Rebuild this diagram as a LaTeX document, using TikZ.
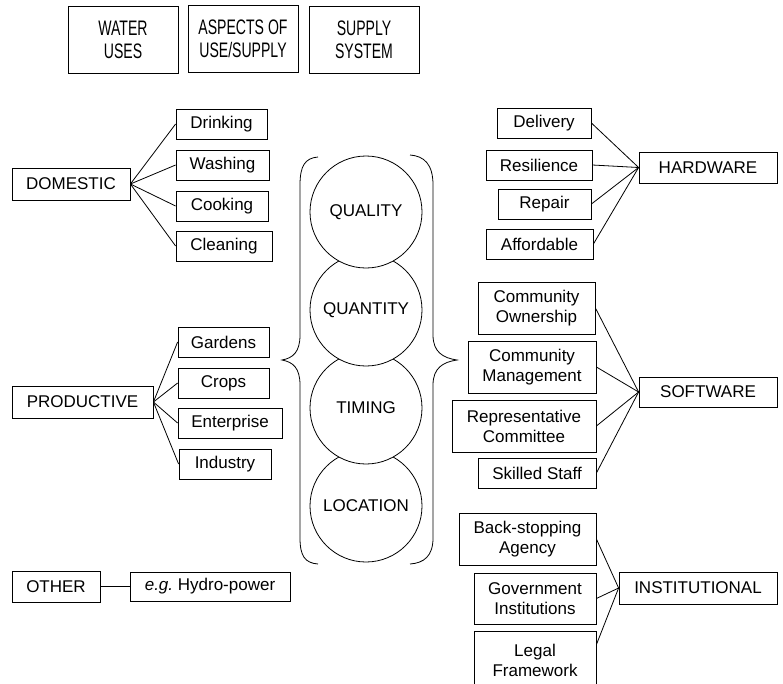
\documentclass[tikz,border=0pt]{standalone}
\usepackage{fontspec}
\setmainfont{Liberation Sans}
\newfontfamily\narrowfont[FakeStretch=0.67]{Liberation Sans}
\tikzset{
  box/.style={draw, line width=0.8pt, inner sep=0pt, align=center, font=\fontsize{17}{20}\selectfont},
  headbox/.style={draw, line width=0.8pt, inner sep=0pt, align=center, minimum width=110pt, minimum height=67pt, font=\narrowfont\fontsize{21}{23}\selectfont},
  aspect/.style={circle, draw, line width=0.8pt, fill=white, minimum size=112pt, inner sep=0pt, font=\fontsize{17}{20}\selectfont},
  link/.style={line width=0.8pt},
  bracepath/.style={line width=0.8pt}
}
\begin{document}
\begin{tikzpicture}[x=1pt,y=-1pt]
\clip (0,0) rectangle (783,683);
\fill[white] (0,0) rectangle (783,683);
% headers
\node[headbox] (water) at (123,39.5) {WATER\\USES};
\node[headbox] (aspects) at (243,38.5) {ASPECTS OF\\USE/SUPPLY};
\node[headbox] (supply) at (364,39.5) {SUPPLY\\SYSTEM};
% domestic
\node[box, minimum width=118pt, minimum height=32pt] (domestic) at (71,184) {DOMESTIC};
\node[box, minimum width=91pt, minimum height=30pt] (drinking) at (221.5,124) {Drinking};
\node[box, minimum width=93pt, minimum height=30pt] (washing) at (222.5,165) {Washing};
\node[box, minimum width=92pt, minimum height=30pt] (cooking) at (222,206) {Cooking};
\node[box, minimum width=96pt, minimum height=30pt] (cleaning) at (224,246) {Cleaning};
\foreach \n in {drinking,washing,cooking,cleaning} \draw[link] (domestic.east) -- (\n.west);
% productive
\node[box, minimum width=141pt, minimum height=32pt] (productive) at (82.5,402) {PRODUCTIVE};
\node[box, minimum width=91pt, minimum height=30pt] (gardens) at (223.5,342) {Gardens};
\node[box, minimum width=91pt, minimum height=30pt] (crops) at (223.5,383) {Crops};
\node[box, minimum width=104pt, minimum height=30pt] (enterprise) at (230,423) {Enterprise};
\node[box, minimum width=92pt, minimum height=30pt] (industry) at (225,464) {Industry};
\foreach \n in {gardens,crops,enterprise,industry} \draw[link] (productive.east) -- (\n.west);
% other
\node[box, minimum width=88pt, minimum height=31pt] (other) at (56,586.5) {OTHER};
\node[box, minimum width=160pt, minimum height=29pt] (hydro) at (210,586.5) {\textit{e.g.}\ Hydro-power};
\draw[link] (other.east) -- (hydro.west);
% circles (drawn bottom first)
\node[aspect] (location) at (366,506) {LOCATION};
\node[aspect] (timing) at (366,408) {TIMING};
\node[aspect] (quantity) at (366,310) {QUANTITY};
\node[aspect] (quality) at (366,212) {QUALITY};
% braces
\draw[bracepath] (318,157) .. controls (305,158) and (300,166) .. (300,185) -- (300,335)
  .. controls (300,352) and (293,358) .. (282,360)
  .. controls (293,362) and (300,368) .. (300,385) -- (300,538)
  .. controls (300,556) and (305,563) .. (318,564);
\draw[bracepath] (410,155) .. controls (424,156) and (433,164) .. (433,185) -- (433,335)
  .. controls (433,352) and (443,358) .. (457,360)
  .. controls (443,362) and (433,368) .. (433,385) -- (433,538)
  .. controls (433,556) and (424,563) .. (410,564);
% hardware
\node[box, minimum width=138pt, minimum height=31pt] (hardware) at (708,167.5) {HARDWARE};
\node[box, minimum width=94pt, minimum height=30pt] (delivery) at (544,123) {Delivery};
\node[box, minimum width=106pt, minimum height=30pt] (resilience) at (539,165) {Resilience};
\node[box, minimum width=93pt, minimum height=30pt] (repair) at (544.5,204) {Repair};
\node[box, minimum width=107pt, minimum height=30pt] (affordable) at (539.5,244) {Affordable};
\foreach \n in {delivery,resilience,repair,affordable} \draw[link] (\n.east) -- (hardware.west);
% software
\node[box, minimum width=138pt, minimum height=30pt] (software) at (708,392) {SOFTWARE};
\node[box, minimum width=117pt, minimum height=52pt] (comown) at (536.5,308) {Community\\Ownership};
\node[box, minimum width=128pt, minimum height=52pt] (comman) at (532,367) {Community\\Management};
\node[box, minimum width=144pt, minimum height=52pt] (repcom) at (524,426) {Representative\\Committee};
\node[box, minimum width=118pt, minimum height=30pt] (skilled) at (537,473) {Skilled Staff};
\foreach \n in {comown,comman,repcom,skilled} \draw[link] (\n.east) -- (software.west);
% institutional
\node[box, minimum width=158pt, minimum height=32pt] (institutional) at (698,588) {INSTITUTIONAL};
\node[box, minimum width=137pt, minimum height=52pt] (backstop) at (527.5,539) {Back-stopping\\Agency};
\node[box, minimum width=122pt, minimum height=51pt] (govt) at (535,598.5) {Government\\Institutions};
\node[box, minimum width=122pt, minimum height=58pt] (legal) at (535,660) {Legal\\Framework};
\draw[link] (backstop.east) -- (institutional.west);
\draw[link] (govt.east) -- (institutional.west);
\draw[link] ([yshift=-14pt]legal.north east) -- (institutional.west);
\end{tikzpicture}
\end{document}
